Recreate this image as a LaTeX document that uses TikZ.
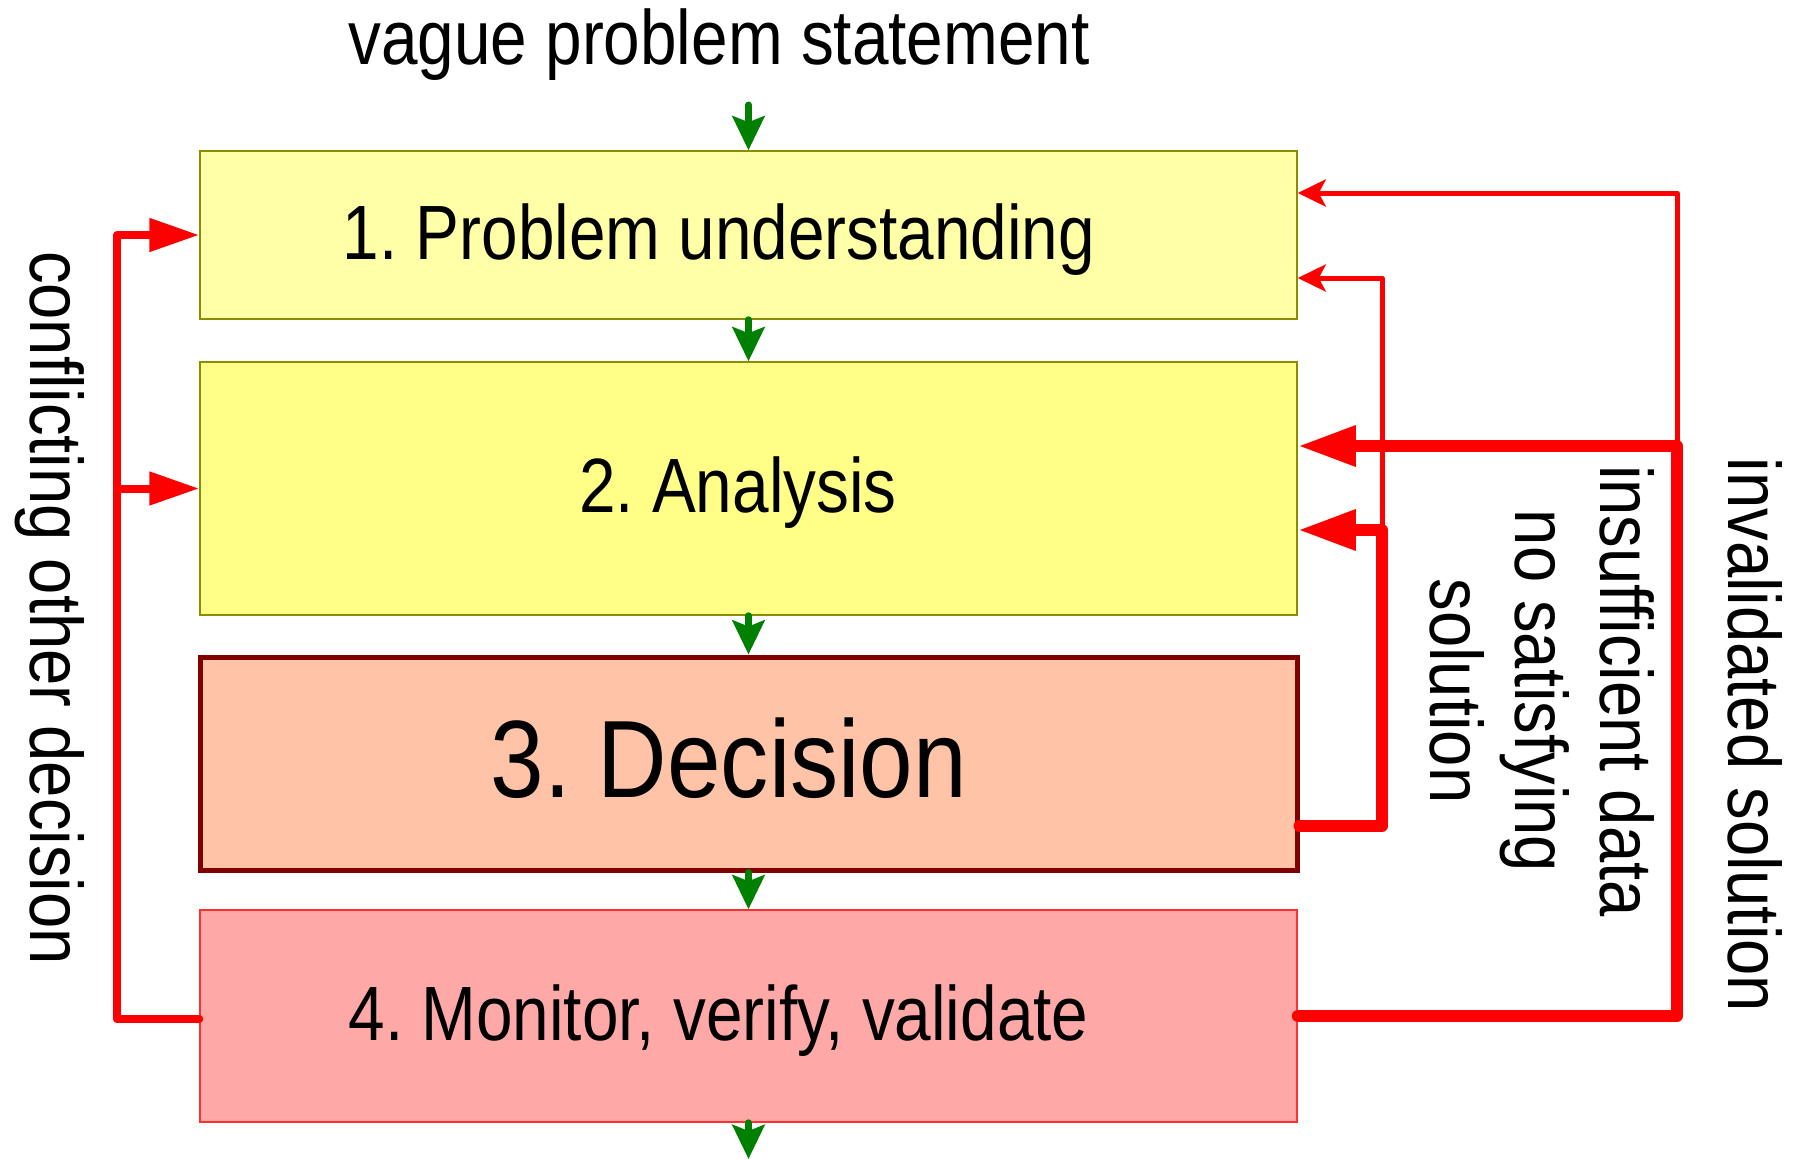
\documentclass[tikz,border=0pt]{standalone}
\usepackage{fontspec}
\newfontfamily\narrowsans{Liberation Sans}[FakeStretch=0.853]
\newfontfamily\sidesans{Liberation Sans}[FakeStretch=0.875]
\usetikzlibrary{arrows.meta}
\definecolor{boxone}{HTML}{FFFFA8}
\definecolor{boxtwo}{HTML}{FFFF88}
\definecolor{boxthree}{HTML}{FFC4A8}
\definecolor{boxfour}{HTML}{FFA8A8}
\definecolor{olivebd}{HTML}{8C8C00}
\definecolor{darkred}{HTML}{800000}
\definecolor{arrowgreen}{HTML}{008000}
\definecolor{boxfourbd}{HTML}{FF3030}
\frenchspacing
\begin{document}
\begin{tikzpicture}[x=1pt,y=-1pt,
  txt/.style={font=\narrowsans\fontsize{77}{85}\selectfont\frenchspacing, inner sep=0pt},
  stage/.style={txt, rectangle, minimum width=1097pt, inner sep=0pt, line width=1.5pt,
                text height=65pt, text depth=17pt},
  flow/.style={draw=arrowgreen, line width=7pt, line cap=round, -{Stealth[length=34pt,width=32pt,inset=6pt]}},
  thinback/.style={draw=red, line width=5pt, line join=round, line cap=round, -{Stealth[length=28pt,width=27pt,inset=7pt]}},
  thickback/.style={draw=red, line width=12pt, line join=round, line cap=round, -{Triangle[length=58pt,width=38pt]}},
  leftback/.style={draw=red, line width=8pt, line join=round, line cap=round, -{Triangle[length=50pt,width=32pt]}},
  sidelabel/.style={font=\sidesans\fontsize{74.5}{85}\selectfont, inner sep=0pt, rotate=-90, align=center}
]
\useasboundingbox (0,0) rectangle (1794,1159);

\node[txt, anchor=base] (title) at (719,64) {vague problem statement};

\node[stage, fill=boxone, draw=olivebd, minimum height=168pt] (b1) at (748.5,235) {1. Problem understanding\kern59pt};
\node[stage, fill=boxtwo, draw=olivebd, minimum height=253pt] (b2) at (748.5,488.5) {2. Analysis\kern21pt};
\node[stage, fill=boxthree, draw=darkred, line width=5pt, minimum height=213pt,
      font=\sidesans\fontsize{110}{120}\selectfont\frenchspacing, text height=80pt, text depth=13pt] (b3) at (748.5,763.5) {3. Decision\kern39pt};
\node[stage, fill=boxfour, draw=boxfourbd, minimum height=212pt] (b4) at (748.5,1016) {4. Monitor, verify, validate\kern60pt};

\coordinate (start) at (748.5,105);
\coordinate (finish) at (748.5,1159);
\draw[flow] (start) -- (b1.north);
\draw[flow] (b1.south) -- (b2.north);
\draw[flow] (b2.south) -- (b3.north);
\draw[flow] (b3.south) -- (b4.north);
\draw[flow] (b4.south) -- (finish);

% left feedback
\coordinate (lcol) at (117,488.5);
\draw[leftback] ([yshift=-3pt]b4.west) -| (lcol |- b1.west) -- (b1.west);
\draw[leftback] (lcol) -- (b2.west);

% right feedback
\coordinate (r1) at (1677,446);
\coordinate (r2) at (1382,530);
\draw[thinback] (r1) |- ([yshift=42pt]b1.east);
\draw[thinback] (r2) |- ([yshift=-43pt]b1.east);
\draw[thickback] (b4.east) -| (r1) -- (r1 -| b2.east);
\draw[thickback] ([yshift=-62.5pt]b3.east) -| (r2) -- (r2 -| b2.east);

\node[sidelabel, anchor=base] (lconf) at (30,608) {conflicting other decision};
\node[sidelabel, anchor=base] (linval) at (1728,735) {invalidated solution};
\node[sidelabel, anchor=center] (linsuf) at (1542,691) {insufficient data\\no satisfying\\solution};
\end{tikzpicture}
\end{document}
